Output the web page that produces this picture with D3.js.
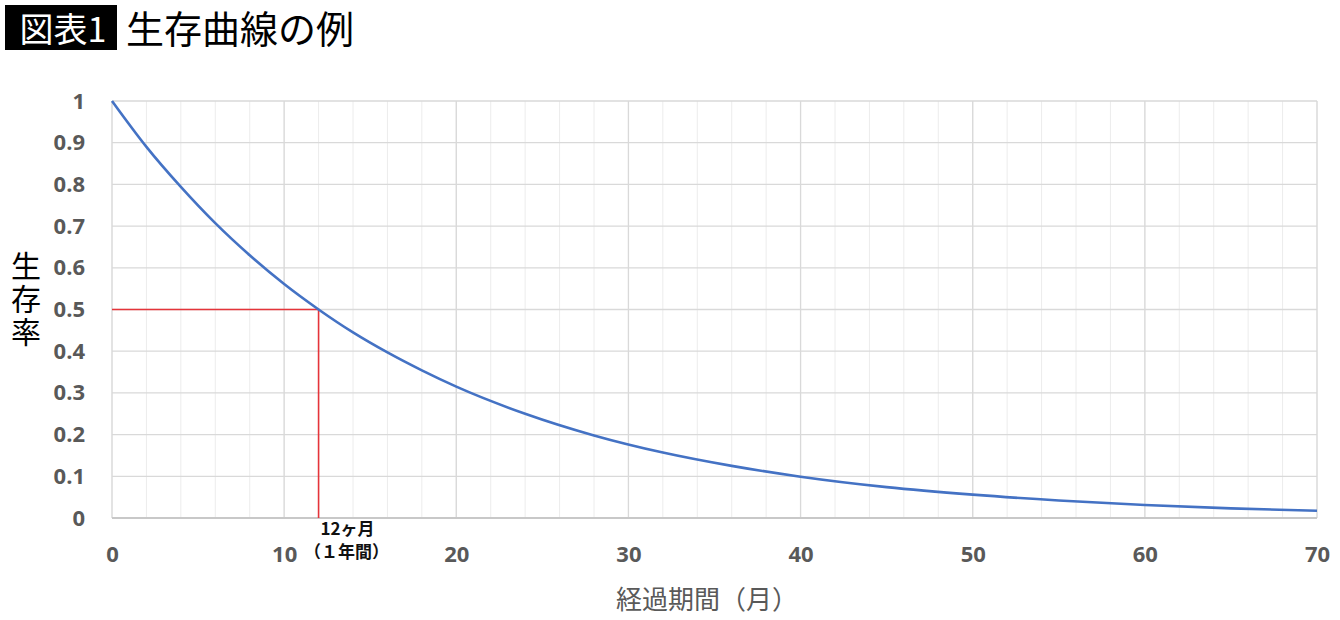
<!DOCTYPE html>
<html>
<head>
<meta charset="utf-8">
<script src="https://cdn.jsdelivr.net/npm/d3@7"></script>
<style>
  body { margin: 0; background: #fff; }
  svg { display: block; }
</style>
</head>
<body>
<svg width="1340" height="620"></svg>
<script>
// values
var months = [0, 2, 4, 6, 8, 10, 12, 14, 16, 18, 20, 24, 28, 32, 36, 40, 45, 50, 55, 60, 65, 70];
var survival = [1.0, 0.89, 0.794, 0.707, 0.63, 0.561, 0.5, 0.445, 0.397, 0.354, 0.315, 0.25, 0.198, 0.157, 0.125, 0.099, 0.074, 0.056, 0.042, 0.031, 0.023, 0.0175];
var xTicks = [0, 10, 20, 30, 40, 50, 60, 70];
var yTicks = [0, 0.1, 0.2, 0.3, 0.4, 0.5, 0.6, 0.7, 0.8, 0.9, 1];
var median = {month: 12, value: 0.5};

var svg = d3.select('svg');
var plotLeft = 112, plotRight = 1317, plotTop = 101, plotBottom = 518;

var x = d3.scaleLinear().domain([0, 70]).range([plotLeft, plotRight]);
var y = d3.scaleLinear().domain([0, 1]).range([plotBottom, plotTop]);

var tickFont = '"Open Sans", "Noto Sans", sans-serif';
var jpFont = '"Noto Sans CJK JP", sans-serif';

// title
svg.append('rect').attr('x', 5).attr('y', 5).attr('width', 112).attr('height', 45).attr('fill', '#000');
svg.append('text').attr('x', 63).attr('y', 42).attr('text-anchor', 'middle')
    .attr('font-family', jpFont).attr('font-size', 34).attr('fill', '#fff').text('図表1');
svg.append('text').attr('x', 126).attr('y', 43)
    .attr('font-family', jpFont).attr('font-size', 38).attr('fill', '#000').text('生存曲線の例');

// minor vertical grid every 2 months
var minor = d3.range(0, 71, 2);
svg.append('g').selectAll('line')
    .data(minor)
    .enter()
    .append('line')
    .attr('x1', function(d){ return x(d); })
    .attr('x2', function(d){ return x(d); })
    .attr('y1', plotTop).attr('y2', plotBottom)
    .attr('stroke', '#ececec').attr('stroke-width', 1);

// major vertical grid
svg.append('g').selectAll('line')
    .data(xTicks)
    .enter()
    .append('line')
    .attr('x1', function(d){ return x(d); })
    .attr('x2', function(d){ return x(d); })
    .attr('y1', plotTop).attr('y2', plotBottom)
    .attr('stroke', '#d9d9d9').attr('stroke-width', 1.3);

// horizontal grid
svg.append('g').selectAll('line')
    .data(yTicks)
    .enter()
    .append('line')
    .attr('x1', plotLeft).attr('x2', plotRight)
    .attr('y1', function(d){ return y(d); })
    .attr('y2', function(d){ return y(d); })
    .attr('stroke', function(d){ return d === 0 ? '#c8c8c8' : '#d9d9d9'; })
    .attr('stroke-width', function(d){ return d === 0 ? 2 : 1.3; });

// tick labels via d3 axes, lines hidden
var yAxis = svg.append('g')
    .attr('transform', 'translate(' + (plotLeft - 24) + ',0)')
    .call(d3.axisLeft(y).tickValues(yTicks).tickSize(0).tickFormat(function(d){ return d3.format('~g')(d); }));
var xAxis = svg.append('g')
    .attr('transform', 'translate(0,' + (plotBottom + 20) + ')')
    .call(d3.axisBottom(x).tickValues(xTicks).tickSize(0));
[yAxis, xAxis].forEach(function(a){
    a.select('.domain').remove();
    a.selectAll('text')
        .attr('font-family', tickFont)
        .attr('font-size', 22)
        .attr('font-weight', 'bold')
        .attr('fill', '#595959');
});
xAxis.selectAll('text').attr('dy', '0.95em');

// median guide lines
svg.append('path')
    .attr('d', 'M' + x(0) + ',' + y(median.value) + 'H' + x(median.month) + 'V' + y(0))
    .attr('fill', 'none').attr('stroke', '#e5343a').attr('stroke-width', 1.6);

// survival curve
var line = d3.line()
    .x(function(d, i){ return x(months[i]); })
    .y(function(d){ return y(d); })
    .curve(d3.curveMonotoneX);
svg.append('path')
    .datum(survival)
    .attr('d', line)
    .attr('fill', 'none')
    .attr('stroke', '#4472c4')
    .attr('stroke-width', 2.6);

// annotation
var note = svg.append('text')
    .attr('font-family', jpFont).attr('font-size', 17).attr('font-weight', 'bold')
    .attr('fill', '#111').attr('text-anchor', 'middle');
note.append('tspan').attr('x', x(median.month) + 29).attr('y', 535).text('12ヶ月');
note.append('tspan').attr('x', x(median.month) + 28).attr('y', 558).text('（１年間）');

// axis titles
svg.append('text').attr('x', 707).attr('y', 609).attr('text-anchor', 'middle')
    .attr('font-family', jpFont).attr('font-size', 26).attr('fill', '#595959').text('経過期間（月）');

var yt = svg.append('text').attr('font-family', jpFont).attr('font-size', 30)
    .attr('fill', '#000').attr('text-anchor', 'middle');
['生', '存', '率'].forEach(function(c, i){
    yt.append('tspan').attr('x', 26).attr('y', 277 + i * 33).text(c);
});
</script>
</body>
</html>
